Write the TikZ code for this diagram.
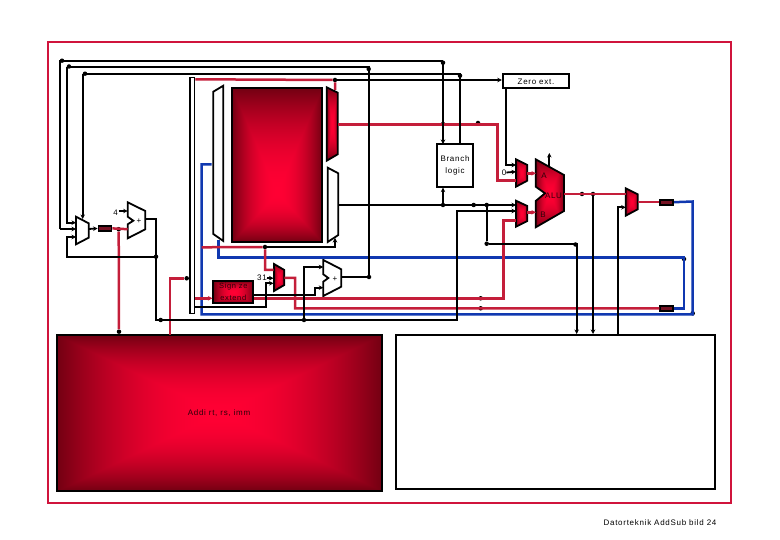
\documentclass[tikz,border=0pt]{standalone}
\usepackage{fontspec}
\setmainfont[LetterSpace=9]{Liberation Sans}
\usetikzlibrary{arrows.meta,calc}
\definecolor{framered}{HTML}{D0143C}
\definecolor{wirered}{HTML}{C41E3A}
\definecolor{wireblue}{HTML}{1038B0}
\definecolor{inkred}{HTML}{2A0008}
% corner to corner glow, bright in the middle
\pgfdeclarefunctionalshading{boxglow}{\pgfpointorigin}{\pgfpoint{100bp}{100bp}}{}{
  50 sub abs 25 div exch 50 sub abs 25 div
  2 copy lt {exch} if pop dup mul
  dup 0.55 mul 1 exch sub exch 0 exch 0.13 mul 0.2 exch sub
}
% same glow with the bright spot low down
\pgfdeclarefunctionalshading{lowglow}{\pgfpointorigin}{\pgfpoint{100bp}{100bp}}{}{
  dup 41 lt {41 sub abs 16 div} {41 sub 34 div} ifelse exch 50 sub abs 25 div
  2 copy lt {exch} if pop dup mul
  dup 0.55 mul 1 exch sub exch 0 exch 0.13 mul 0.2 exch sub
}
\tikzset{
  wire/.style={draw=black,line width=1.8pt},
  wirea/.style={wire,-{Stealth[length=4.5pt,width=4.5pt]}},
  rwire/.style={draw=wirered,line width=2.5pt},
  rwirea/.style={rwire,-{Stealth[length=4.5pt,width=4.5pt]}},
  bwire/.style={draw=wireblue,line width=2.5pt},
  jdot/.style={circle,fill=black,inner sep=0pt,minimum size=4.5pt},
  unit/.style={draw=black,line width=1.8pt,fill=white,line join=miter},
  glow/.style={draw=black,line width=1.8pt,shading=boxglow,line join=miter},
  pipebox/.style={draw=black,line width=1.8pt,fill=wirered!60!black,minimum width=13pt,minimum height=5pt,inner sep=0pt},
  blk/.style={rectangle,draw=black,line width=1.8pt,fill=white,inner sep=0pt,align=center,font=\fontsize{8}{12}\selectfont},
  lbl/.style={inner sep=0pt,font=\fontsize{8}{10}\selectfont},
  lblr/.style={lbl,text=inkred},
}
\begin{document}
\begin{tikzpicture}[x=1pt,y=-1pt]
  \useasboundingbox (0,0) rectangle (780,540);
  \node[draw=framered,line width=1.8pt,minimum width=683pt,minimum height=461pt,inner sep=0pt] (slide) at (389.5,272.5) {};
  \node[lbl] (footer) at (660,523) {Datorteknik AddSub bild 24};

  % boxes
  \node[blk,minimum width=66.6pt,minimum height=14pt] (zero) at (536,81.3) {Zero ext.};
  \node[blk,minimum width=36.6pt,minimum height=42.4pt] (branch) at (455,165.5) {Branch\\logic};
  \node[blk,minimum width=319pt,minimum height=154pt] (ctrl) at (555.5,412) {};
  \node[draw=black,line width=1.8pt,minimum width=325pt,minimum height=156pt,inner sep=0pt,shading=boxglow] (datamem) at (219.5,413) {};
  \node[lblr] (instr) at (219,413) {Addi rt, rs, imm};
  \node[draw=black,line width=2.2pt,minimum width=90pt,minimum height=154pt,inner sep=0pt,shading=lowglow] (regs) at (277,165) {};
  \node[draw=black,line width=1.8pt,minimum width=40pt,minimum height=22.6pt,inner sep=0pt,shading=boxglow,align=center,text=inkred,font=\fontsize{7.5}{11.5}\selectfont] (signext) at (233.3,292) {Sign ze\\extend};
  \node[draw=black,line width=1.8pt,fill=white,minimum width=4.5pt,minimum height=236pt,inner sep=0pt] (ifid) at (192.2,195.5) {};
  \node[pipebox] (pc) at (105,228.4) {};
  \node[pipebox] (memreg) at (666.8,202.2) {};
  \node[pipebox] (wbreg) at (666.8,308.5) {};

  % white and red muxes, drawn by their corners
  \draw[unit] (76,216.7) -- (88.7,223.3) -- (88.7,237.7) -- (76,244.3) -- cycle;
  \draw[unit] (213.3,91.7) -- (223.3,85.7) -- (223.3,241) -- (213.3,234) -- cycle;
  \draw[unit] (327.7,167.7) -- (338.3,173.3) -- (338.3,235) -- (327.7,242) -- cycle;
  \draw[glow] (326.7,87.3) -- (337.7,92.7) -- (337.7,154.3) -- (326.7,160.7) -- cycle;
  \draw[glow] (274,264) -- (284.3,270) -- (284.3,285) -- (274,291) -- cycle;
  \draw[glow] (516,159.3) -- (527.3,165) -- (527.3,180.7) -- (516,186.7) -- cycle;
  \draw[glow] (516,200.7) -- (527.3,206) -- (527.3,221) -- (516,226.7) -- cycle;
  \draw[glow] (625.7,188.3) -- (637.7,194.3) -- (637.7,209.3) -- (625.7,215.7) -- cycle;

  % adders and the alu
  \draw[unit] (127.7,202.3) -- (145.3,211) -- (145.3,229.3) -- (127.7,238.3) -- (127.7,224.3) -- (133.3,220.7) -- (127.7,216.7) -- cycle;
  \draw[unit] (323.3,260) -- (341.3,269.3) -- (341.3,286.7) -- (323.3,296) -- (323.3,281.7) -- (328.3,278) -- (323.3,274.3) -- cycle;
  \draw[glow] (535.7,159.3) -- (564,175) -- (564,211) -- (535.7,227.3) -- (535.7,201) -- (545,193.3) -- (535.7,186.7) -- cycle;
  \node[lbl] (plusa) at (139,221) {+};
  \node[lbl] (plusb) at (335,279) {+};
  \node[lblr] (alua) at (544,176) {A};
  \node[lblr] (alub) at (543,215) {B};
  \node[lblr] (alu) at (553.5,195.5) {ALU};
  \node[lbl] (four) at (115.5,213) {4};
  \node[lbl] (thirtyone) at (262,278) {31};
  \node[lbl] (nil) at (504,172.5) {0};

  % ports
  \coordinate (muxa1) at (516,165);
  \coordinate (muxa2) at (516,171.7);
  \coordinate (muxa3) at (516,180.7);
  \coordinate (muxb1) at (516,205);
  \coordinate (muxb2) at (516,211);
  \coordinate (muxb3) at (516,220.7);
  \coordinate (pcin1) at (76,222.7);
  \coordinate (pcin2) at (76,229);
  \coordinate (pcin3) at (76,237);
  \coordinate (wbsel) at (625.7,207.3);
  \coordinate (wbin) at (625.7,194);
  \coordinate (imma) at (273.5,270);
  \coordinate (immb) at (273.5,278.3);
  \coordinate (immc) at (273.5,283.3);

  % junctions
  \node[jdot] (j1) at (156,256.7) {};
  \node[jdot] (j2) at (160.7,320) {};
  \node[jdot] (j3) at (304,320) {};
  \node[jdot] (j4) at (118.7,229.2) {};
  \node[jdot] (j5) at (265,247) {};
  \node[jdot] (j6) at (335,80) {};
  \node[jdot] (j7) at (443,124) {};
  \node[jdot] (j8) at (478,123) {};
  \node[jdot] (j9) at (443,205) {};
  \node[jdot] (j10) at (473.7,205) {};
  \node[jdot] (j11) at (486.7,205) {};
  \node[jdot] (j12) at (486.7,243.7) {};
  \node[jdot] (j13) at (582,194) {};
  \node[jdot] (j14) at (593,194) {};
  \node[jdot] (j15) at (480.7,298.3) {};
  \node[jdot] (j16) at (480.7,308.3) {};
  \node[jdot] (j17) at (369,277) {};
  \node[jdot] (j18) at (62,60.7) {};
  \node[jdot] (j19) at (69,66.5) {};
  \node[jdot] (j20) at (85,73.7) {};
  \node[jdot] (j21) at (368.7,69) {};
  \node[jdot] (j22) at (443,62.7) {};
  \node[jdot] (j23) at (460,75.7) {};
  \node[jdot] (j24) at (186.7,278.3) {};
  \node[jdot] (j25) at (119,331.7) {};
  \node[jdot] (j26) at (575.5,244.5) {};
  \node[jdot] (j27) at (684,259) {};
  \node[jdot] (j28) at (692.7,313.3) {};

  % blue wires
  \draw[bwire] (211.7,164.3) -- (201.7,164.3) -- (201.7,314.3) -- (692.7,314.3) -- (692.7,201.5) -- (memreg.east);
  \draw[bwire] (218.3,240) -- (218.3,257.3) -- (684,257.3) -- (684,308.5) -- (wbreg.east);

  % red wires
  \draw[rwire] (j4) -- (j25);
  \draw[rwire] (pc.east) -- (127.7,229.2);
  \draw[rwire] (170,335) -- (170,278.3) -- (j24);
  \draw[rwire] (ifid.east |- 0,79.3) -- (j6) -- (335,90);
  \draw[rwire] (337.7,124.3) -- (497.3,124.3) -- (497.3,180.7) -- (muxa3);
  \draw[rwire] (201.7,247.3) -- (j5) -- (265,270) -- (imma);
  \draw[rwire] (284.3,278) -- (295,278) -- (295,308.3) -- (wbreg.west);
  \draw[rwire] (signext.east |- 0,298.3) -- (503.3,298.3) -- (503.3,220.7) -- (muxb3);
  \draw[rwirea] (ifid.east |- 0,298.3) -- (signext.west |- 0,298.3);
  \draw[rwirea] (527.3,173.3) -- (536,173.3);
  \draw[rwirea] (527.3,212.3) -- (536,212.3);
  \draw[rwire] (564,194) -- (wbin);
  \draw[rwire] (637.7,202.2) -- (memreg.west);

  % black wires
  \draw[wire] (60,229) -- (60,60.7) -- (443,60.7);
  \draw[wirea] (443,60.7) -- (443,144);
  \draw[wirea] (pcin2 -| 60,0) -- (pcin2);
  \draw[wirea] (66.7,66.7) -- (66.7,222.7) -- (pcin1);
  \draw[wire] (66.7,66.7) -- (369,66.7) -- (j17) -- (341.3,277);
  \draw[wirea] (82.7,73.7) -- (82.7,219);
  \draw[wire] (82.7,73.7) -- (460,73.7) -- (460,144.3);
  \draw[wirea] (j6) -- (zero.west |- j6);
  \draw[wirea] (506,88) -- (506,165) -- (muxa1);
  \draw[wirea] (nil.east) -- (muxa2);
  \draw[wire] (145.3,219) -- (156,219) -- (156,320) -- (457,320) -- (457,211) -- (muxb2);
  \draw[wirea] (457,211) -- (muxb2);
  \draw[wirea] (j1) -| (pcin3 -| 66.7,0) -- (pcin3);
  \draw[wirea] (j3) -- (304,267) -- (323.3,267);
  \draw[wirea] (signext.east |- 0,295) -- (315,295) -- (315,287.7) -- (323.3,287.7);
  \draw[wirea] (338.3,205) -- (muxb1);
  \draw[wirea] (j9) -- (branch.south -| j9);
  \draw[wirea] (j11) -- (j12) -- (576.7,243.7) -- (576.7,334);
  \draw[wirea] (j14) -- (593,334);
  \draw[wirea] (617.7,334) -- (617.7,207.3) -- (wbsel);
  \draw[wirea] (549.3,167.3) -- (549.3,153);
  \draw[wirea] (four.east) ++(1,-2) -- (127.7,211);
  \draw[wirea] (pcin2 -| 88.7,0) -- (pc.west);
  \draw[wirea] (ifid.east |- 0,307.3) -- (265.7,307.3) -- (265.7,283.3) -- (immc);
  \draw[wirea] (thirtyone.east) -- (immb);
  \draw[wirea] (j5) -- (335,247) -- (335,238);
\end{tikzpicture}
\end{document}
